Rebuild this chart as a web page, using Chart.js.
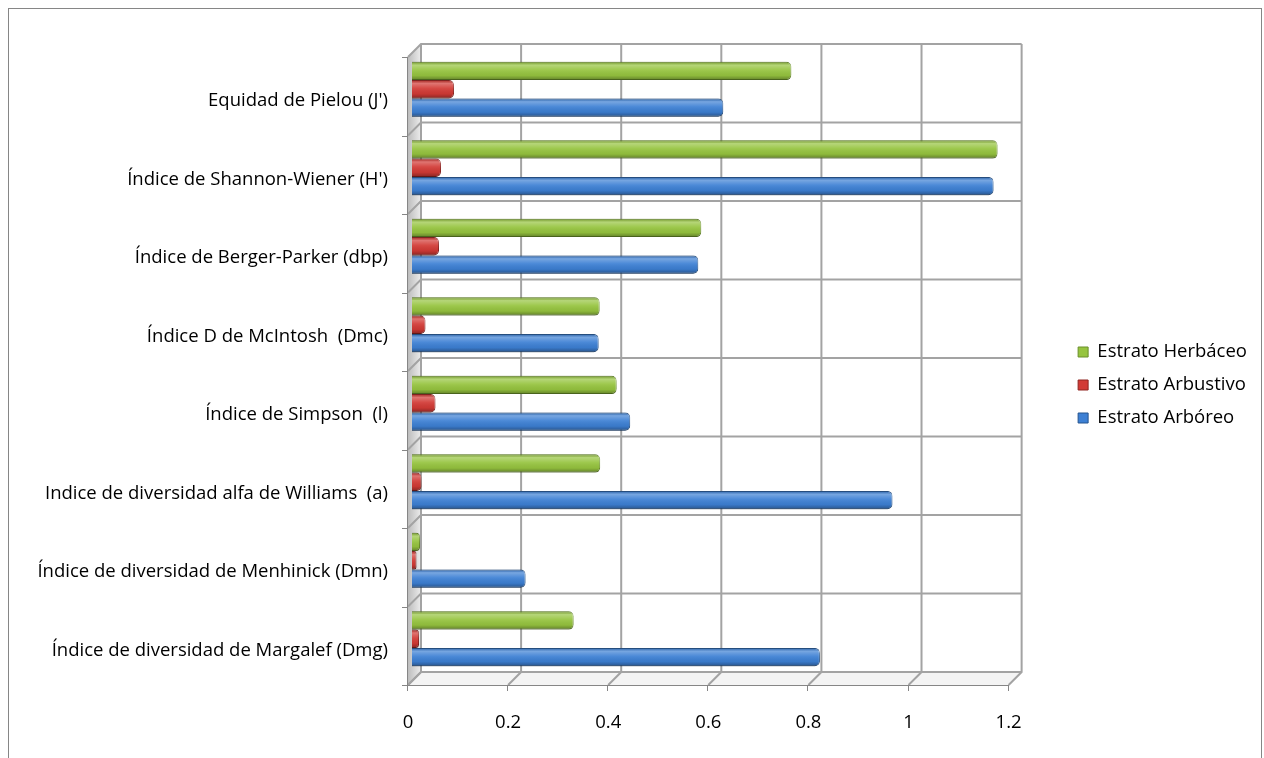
<!DOCTYPE html>
<html>
<head>
<meta charset="utf-8">
<script src="https://cdn.jsdelivr.net/npm/chart.js@4.4.0/dist/chart.umd.min.js"></script>
<style>
html, body { margin: 0; padding: 0; background: #fff; }
#wrap { width: 1264px; height: 758px; }
</style>
</head>
<body>
<div id="wrap"><canvas id="myChart" width="1264" height="758"></canvas></div>
<script>
const categorias = [
    "Equidad de Pielou (J')",
    "Índice de Shannon-Wiener (H')",
    "Índice de Berger-Parker (dbp)",
    "Índice D de McIntosh  (Dmc)",
    "Índice de Simpson  (l)",
    "Indice de diversidad alfa de Williams  (a)",
    "Índice de diversidad de Menhinick (Dmn)",
    "Índice de diversidad de Margalef (Dmg)"
];
const herbaceo  = [0.758, 1.170, 0.578, 0.375, 0.409, 0.376, 0.016, 0.323];
const arbustivo = [0.084, 0.058, 0.054, 0.027, 0.047, 0.019, 0.009, 0.014];
const arboreo   = [0.622, 1.162, 0.572, 0.373, 0.436, 0.960, 0.227, 0.815];
const ticksX = [0, 0.2, 0.4, 0.6, 0.8, 1, 1.2];

const fuente = '"Open Sans", Lato, sans-serif';
const tam = 18.5;

// paredes 3D tipo Excel (detras de las barras)
const paredes = {
    id: 'paredes',
    beforeDraw(chart) {
        const ctx = chart.ctx;
        ctx.save();
        ctx.strokeStyle = '#868686';
        ctx.lineWidth = 1;
        ctx.strokeRect(8.5, 8.5, 1253, 800);
        ctx.restore();
    },
    beforeDatasetsDraw(chart) {
        const ctx = chart.ctx, ca = chart.chartArea;
        const xs = chart.scales.x, ys = chart.scales.y;
        const fx = -4, fy = 7, bx = 9, by = -6;
        const x0 = xs.getPixelForValue(ticksX[0]);
        const x1 = xs.getPixelForValue(ticksX[ticksX.length - 1]);
        ctx.save();
        // pared lateral
        const gl = ctx.createLinearGradient(x0 + fx, 0, x0 + bx, 0);
        gl.addColorStop(0, '#bdbdbd');
        gl.addColorStop(1, '#ececec');
        ctx.fillStyle = gl;
        ctx.beginPath();
        ctx.moveTo(x0 + fx, ca.top + fy);
        ctx.lineTo(x0 + fx, ca.bottom + fy);
        ctx.lineTo(x0 + bx, ca.bottom + by);
        ctx.lineTo(x0 + bx, ca.top + by);
        ctx.closePath();
        ctx.fill();
        // suelo
        ctx.fillStyle = '#f4f4f4';
        ctx.beginPath();
        ctx.moveTo(x0 + fx, ca.bottom + fy);
        ctx.lineTo(x1 + fx, ca.bottom + fy);
        ctx.lineTo(x1 + bx, ca.bottom + by);
        ctx.lineTo(x0 + bx, ca.bottom + by);
        ctx.closePath();
        ctx.fill();

        ctx.strokeStyle = '#a3a3a3';
        ctx.lineWidth = 2;
        // rejilla vertical + diagonales del suelo
        ticksX.forEach(v => {
            const X = xs.getPixelForValue(v);
            ctx.beginPath();
            ctx.moveTo(X + bx, ca.top + by);
            ctx.lineTo(X + bx, ca.bottom + by);
            ctx.lineTo(X + fx, ca.bottom + fy);
            ctx.stroke();
        });
        // rejilla horizontal + diagonales laterales
        for (let i = 0; i <= categorias.length; i++) {
            const Y = ys.getPixelForValue(i - 0.5);
            ctx.beginPath();
            ctx.moveTo(x1 + bx, Y + by);
            ctx.lineTo(x0 + bx, Y + by);
            ctx.lineTo(x0 + fx, Y + fy);
            ctx.stroke();
        }
        // ejes frontales
        ctx.strokeStyle = '#868686';
        ctx.lineWidth = 1;
        ctx.beginPath();
        ctx.moveTo(x0 + fx - 0.5, ca.top + fy);
        ctx.lineTo(x0 + fx - 0.5, ca.bottom + fy + 0.5);
        ctx.lineTo(x1 + fx, ca.bottom + fy + 0.5);
        for (let i = 0; i <= categorias.length; i++) {
            const Y = Math.round(ys.getPixelForValue(i - 0.5) + fy) + 0.5;
            ctx.moveTo(x0 + fx - 6, Y);
            ctx.lineTo(x0 + fx, Y);
        }
        ticksX.forEach(v => {
            const X = Math.round(xs.getPixelForValue(v) + fx) - 0.5;
            ctx.moveTo(X, ca.bottom + fy);
            ctx.lineTo(X, ca.bottom + fy + 6);
        });
        ctx.stroke();
        ctx.restore();
    }
};

// sombreado cilindrico sobre las barras
const sombreado = {
    id: 'sombreado',
    afterDatasetsDraw(chart) {
        const ctx = chart.ctx;
        chart.data.datasets.forEach((ds, di) => {
            chart.getDatasetMeta(di).data.forEach(bar => {
                const {x, y, base, height} = bar.getProps(['x', 'y', 'base', 'height'], true);
                const top = y - height / 2;
                const w = x - base;
                if (w <= 0) return;
                const r = Math.min(5, w / 2, height / 2);
                const g = ctx.createLinearGradient(0, top, 0, top + height);
                g.addColorStop(0, 'rgba(0,0,0,0.15)');
                g.addColorStop(0.18, 'rgba(255,255,255,0.3)');
                g.addColorStop(0.45, 'rgba(255,255,255,0.08)');
                g.addColorStop(0.75, 'rgba(0,0,0,0.05)');
                g.addColorStop(1, 'rgba(0,0,0,0.35)');
                ctx.save();
                ctx.fillStyle = g;
                ctx.beginPath();
                ctx.moveTo(base, top);
                ctx.lineTo(x - r, top);
                ctx.arcTo(x, top, x, top + r, r);
                ctx.lineTo(x, top + height - r);
                ctx.arcTo(x, top + height, x - r, top + height, r);
                ctx.lineTo(base, top + height);
                ctx.closePath();
                ctx.fill();
                ctx.restore();
            });
        });
    }
};

function graficar(ctx) {
    return new Chart(ctx, {
        type: 'bar',
        data: {
            labels: categorias,
            datasets: [
                { label: 'Estrato Herbáceo', data: herbaceo, backgroundColor: '#96c43f', borderColor: '#6a8f2a' },
                { label: 'Estrato Arbustivo', data: arbustivo, backgroundColor: '#d23a35', borderColor: '#8f2421' },
                { label: 'Estrato Arbóreo', data: arboreo, backgroundColor: '#3d80d4', borderColor: '#24548f' }
            ]
        },
        options: {
            indexAxis: 'y',
            responsive: false,
            animation: false,
            datasets: {
                bar: {
                    borderWidth: 1,
                    borderRadius: 5,
                    categoryPercentage: 0.7,
                    barPercentage: 1.0
                }
            },
            layout: { padding: { top: 12, right: 7, bottom: 0, left: 0 } },
            scales: {
                x: {
                    min: 0, max: 1.2,
                    afterBuildTicks: s => { s.ticks = ticksX.map(v => ({ value: v })); },
                    afterFit: s => { s.height = 80; },
                    grid: { display: false, drawTicks: false },
                    border: { display: false },
                    ticks: {
                        color: '#000',
                        font: { family: fuente, size: tam },
                        padding: 34,
                        labelOffset: -4,
                        maxRotation: 0,
                        callback: v => String(Number(v.toFixed(1)))
                    }
                },
                y: {
                    afterFit: s => { s.width = 412; },
                    grid: { display: false, drawTicks: false },
                    border: { display: false },
                    ticks: {
                        color: '#000',
                        font: { family: fuente, size: tam },
                        padding: 24,
                        labelOffset: 11.5
                    }
                },
                margenArriba: {
                    type: 'linear', position: 'top', axis: 'x',
                    afterFit: s => { s.height = 38; },
                    grid: { display: false }, border: { display: false }, ticks: { display: false }
                },
                margenDerecha: {
                    type: 'linear', position: 'right', axis: 'y',
                    afterFit: s => { s.width = 51; },
                    grid: { display: false }, border: { display: false }, ticks: { display: false }
                }
            },
            plugins: {
                legend: {
                    position: 'right',
                    labels: {
                        color: '#000',
                        font: { family: fuente, size: tam },
                        boxWidth: 10,
                        boxHeight: 10,
                        padding: 14.5
                    }
                },
                tooltip: { enabled: false }
            }
        },
        plugins: [paredes, sombreado]
    });
}

function getChars() {
    const ctx = document.getElementById('myChart').getContext('2d');
    graficar(ctx);
}
getChars();
</script>
</body>
</html>
